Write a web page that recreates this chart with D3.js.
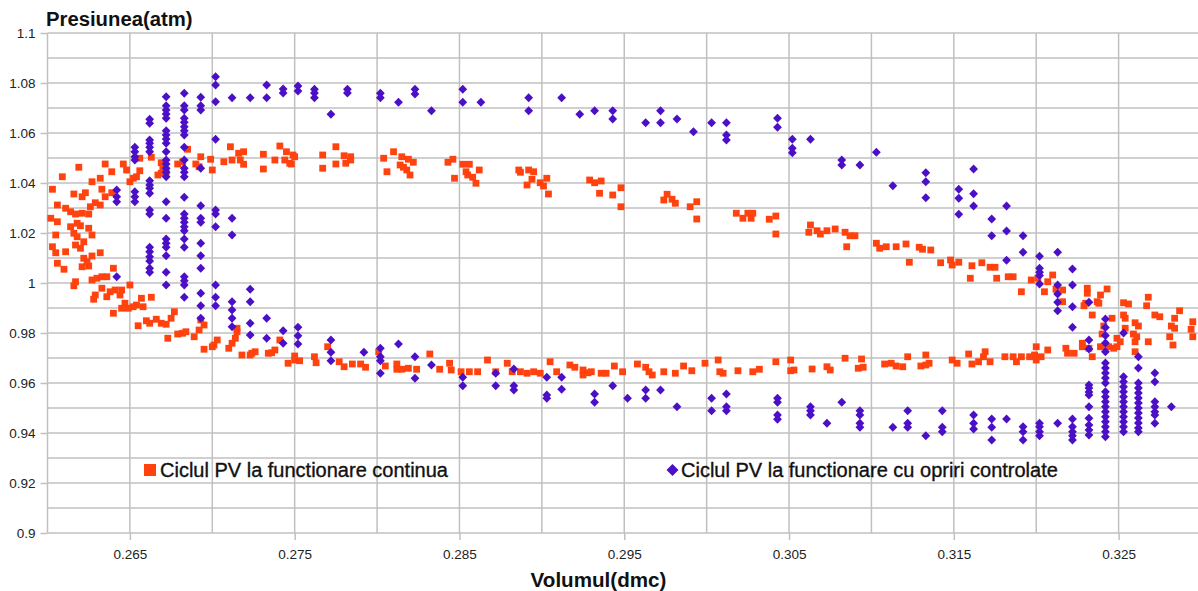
<!DOCTYPE html>
<html><head><meta charset="utf-8">
<script src="https://cdn.jsdelivr.net/npm/d3@7"></script>
<style>body{margin:0;background:#fff}svg{display:block;font-family:"Liberation Sans",Arial,sans-serif}</style>
</head><body><svg id="c" width="1198" height="591"></svg>
<script>
// ---------- data ----------
const xTickValues = [0.265, 0.275, 0.285, 0.295, 0.305, 0.315, 0.325];
const xTickLabels = ["0.265", "0.275", "0.285", "0.295", "0.305", "0.315", "0.325"];
const yTickValues = [0.9, 0.92, 0.94, 0.96, 0.98, 1.0, 1.02, 1.04, 1.06, 1.08, 1.1];
const yTickLabels = ["0.9", "0.92", "0.94", "0.96", "0.98", "1", "1.02", "1.04", "1.06", "1.08", "1.1"];
const seriesNames = ["Ciclul PV la functionare continua", "Ciclul PV la functionare cu opriri controlate"];
const axisTitles = ["Volumul(dmc)", "Presiunea(atm)"];

// series 1: continuous operation  [volume, pressure]
const seriesContinua = [
[0.2603,1.0375],[0.2602,1.0259],[0.2609,1.0425],[0.2619,1.0463],[0.2635,1.0476],[0.2646,1.0476],[0.2648,1.0452],[0.2639,1.0445],[0.2627,1.0405],[0.2632,1.0419],[0.2633,1.0375],[0.2639,1.0361],[0.2635,1.0345],[0.2616,1.0356],[0.2621,1.0345],[0.2623,1.0361],[0.2606,1.0312],[0.2611,1.0299],[0.2614,1.0285],[0.2617,1.0276],[0.2621,1.0279],[0.2625,1.0276],[0.2626,1.0305],[0.2629,1.0321],[0.2632,1.0312],[0.2606,1.0245],[0.2618,1.0239],[0.2614,1.0225],[0.2620,1.0229],[0.2625,1.0219],[0.2627,1.0192],[0.2605,1.0192],[0.2603,1.0145],[0.2616,1.0199],[0.2618,1.0185],[0.2622,1.0165],[0.2617,1.0152],[0.2620,1.0139],[0.2605,1.0121],[0.2611,1.0125],[0.2622,1.0099],[0.2627,1.0108],[0.2632,1.0121],[0.2606,1.0079],[0.2610,1.0055],[0.2621,1.0065],[0.2625,1.0068],[0.2624,1.0085],[0.2640,1.0059],[0.2627,1.0012],[0.2630,1.0019],[0.2633,1.0025],[0.2636,1.0025],[0.2617,1.0005],[0.2616,0.9989],[0.2650,0.9992],[0.2633,0.9979],[0.2638,0.9965],[0.2641,0.9972],[0.2645,0.9972],[0.2644,0.9952],[0.2629,0.9952],[0.2628,0.9935],[0.2636,0.9945],[0.2663,0.9943],[0.2657,0.9939],[0.2647,0.9919],[0.2658,0.9905],[0.2654,0.9912],[0.2652,0.9905],[0.2649,0.9899],[0.2645,0.9899],[0.2640,0.9879],[0.2655,0.9829],[0.2660,0.9849],[0.2662,0.9839],[0.2666,0.9855],[0.2669,0.9839],[0.2672,0.9835],[0.2675,0.9859],[0.2677,0.9885],[0.2673,0.9779],[0.2679,0.9796],[0.2682,0.9799],[0.2684,0.9805],[0.2689,0.9785],[0.2692,0.9812],[0.2695,0.9832],[0.2693,0.9852],[0.2695,0.9735],[0.2700,0.9745],[0.2703,0.9772],[0.2701,0.9752],[0.2712,0.9759],[0.2714,0.9779],[0.2715,0.9805],[0.2715,0.9819],[0.2718,0.9712],[0.2724,0.9719],[0.2726,0.9725],[0.2736,0.9721],[0.2738,0.9732],[0.2741,0.9772],[0.2750,0.9708],
[0.2710,0.9739],[0.2723,0.9712],[0.2734,0.9719],[0.2746,0.9679],[0.2750,0.9692],[0.2753,0.9689],[0.2762,0.9705],[0.2763,0.9681],[0.2770,0.9745],[0.2777,0.9685],[0.2780,0.9665],[0.2785,0.9676],[0.2790,0.9676],[0.2793,0.9663],[0.2801,0.9725],[0.2805,0.9668],[0.2812,0.9676],[0.2812,0.9655],[0.2815,0.9655],[0.2819,0.9659],[0.2824,0.9655],[0.2832,0.9716],[0.2838,0.9655],[0.2844,0.9679],[0.2845,0.9652],[0.2851,0.9645],[0.2856,0.9645],[0.2861,0.9645],[0.2867,0.9692],[0.2872,0.9645],[0.2879,0.9679],[0.2882,0.9645],[0.2887,0.9645],[0.2891,0.9639],[0.2895,0.9645],[0.2899,0.9639],[0.2905,0.9685],[0.2909,0.9645],
[0.2917,0.9672],[0.2920,0.9663],[0.2925,0.9652],[0.2925,0.9632],[0.2928,0.9641],[0.2930,0.9645],[0.2936,0.9639],[0.2939,0.9639],[0.2944,0.9668],[0.2949,0.9645],[0.2958,0.9676],[0.2963,0.9663],[0.2965,0.9645],[0.2967,0.9632],[0.2974,0.9645],[0.2981,0.9639],[0.2986,0.9668],[0.2991,0.9649],[0.2999,0.9679],[0.3007,0.9692],[0.3008,0.9645],[0.3010,0.9639],[0.3019,0.9649],[0.3028,0.9645],[0.3032,0.9655],[0.3042,0.9685],[0.3051,0.9692],[0.3051,0.9649],[0.3053,0.9652],[0.3064,0.9656],[0.3073,0.9665],[0.3075,0.9652],[0.3084,0.9699],[0.3094,0.9696],[0.3092,0.9659],[0.3095,0.9663],[0.3108,0.9676],[0.3112,0.9679],[0.3115,0.9668],[0.3119,0.9665],[0.3122,0.9705],
[0.3130,0.9668],[0.3133,0.9672],[0.3133,0.9712],[0.3135,0.9679],[0.3149,0.9692],[0.3152,0.9679],[0.3159,0.9716],[0.3161,0.9676],[0.3165,0.9685],[0.3168,0.9705],[0.3169,0.9725],[0.3172,0.9685],[0.3181,0.9705],[0.3186,0.9705],[0.3188,0.9685],[0.3191,0.9705],[0.3196,0.9705],[0.3200,0.9692],[0.3199,0.9712],[0.3200,0.9745],[0.3203,0.9705],[0.3207,0.9732],[0.3218,0.9739],[0.3219,0.9719],[0.3223,0.9719],[0.3228,0.9759],[0.3228,0.9745],[0.3232,0.9739],[0.3234,0.9705],[0.3239,0.9745],[0.3241,0.9745],[0.3244,0.9745],[0.3247,0.9739],[0.3249,0.9745],[0.3249,0.9779],[0.3251,0.9765],[0.3260,0.9765],[0.3260,0.9725],[0.3268,0.9765],
[0.3121,1.0156],[0.3129,1.0143],[0.3131,1.0135],[0.3136,1.0132],[0.3123,1.0083],[0.3142,1.0081],[0.3148,1.0092],[0.3149,1.0072],[0.3153,1.0083],[0.3161,1.0069],[0.3167,1.0081],[0.3172,1.0063],[0.3175,1.0063],[0.3160,1.0019],[0.3176,1.0019],[0.3183,1.0025],[0.3186,1.0025],[0.3191,0.9965],[0.3197,1.0012],[0.3201,1.0019],[0.3207,1.0005],[0.3210,1.0032],[0.3205,0.9965],[0.3212,0.9975],[0.3216,0.9972],[0.3216,0.9925],[0.3229,0.9909],[0.3230,0.9919],[0.3231,0.9979],[0.3231,0.9959],[0.3234,0.9872],[0.3237,0.9925],[0.3239,0.9952],[0.3238,0.9919],[0.3243,0.9976],[0.3241,0.9828],[0.3240,0.9796],[0.3246,0.9859],[0.3253,0.9921],[0.3256,0.9916],[0.3253,0.9872],[0.3254,0.9859],[0.3260,0.9841],[0.3262,0.9828],[0.3254,0.9819],[0.3259,0.9796],[0.3261,0.9785],[0.3268,0.9943],[0.3267,0.9909],[0.3272,0.9872],[0.3275,0.9865],[0.3287,0.9889],[0.3284,0.9859],[0.3282,0.9828],[0.3284,0.9819],[0.3281,0.9785],[0.3283,0.9752],[0.3294,0.9815],[0.3295,0.9845],[0.3295,0.9785],
[0.2990,1.0305],[0.2994,1.0325],[0.2994,1.0256],[0.3018,1.0279],[0.3022,1.0259],[0.3025,1.0279],[0.3027,1.0259],[0.3028,1.0279],[0.3038,1.0255],[0.3042,1.0268],[0.3042,1.0196],[0.3063,1.0232],[0.3062,1.0203],[0.3067,1.0209],[0.3069,1.0196],[0.3073,1.0209],[0.3078,1.0216],[0.3084,1.0203],[0.3087,1.0189],[0.3090,1.0189],[0.3085,1.0145],[0.3103,1.0159],[0.3105,1.0139],[0.3109,1.0145],[0.3115,1.0145],
[0.2741,1.0548],[0.2745,1.0525],[0.2749,1.0512],[0.2744,1.0492],[0.2747,1.0479],[0.2767,1.0512],[0.2767,1.0459],[0.2775,1.0545],[0.2775,1.0476],[0.2780,1.0509],[0.2781,1.0479],[0.2784,1.0505],[0.2784,1.0492],[0.2804,1.0499],[0.2806,1.0445],[0.2810,1.0525],[0.2815,1.0505],[0.2814,1.0472],[0.2816,1.0463],[0.2818,1.0452],[0.2820,1.0432],[0.2819,1.0495],[0.2822,1.0483],[0.2843,1.0483],[0.2846,1.0495],[0.2847,1.0419],[0.2852,1.0475],[0.2856,1.0475],[0.2854,1.0445],[0.2855,1.0432],[0.2858,1.0423],[0.2860,1.0399],[0.2862,1.0452],[0.2886,1.0452],[0.2887,1.0443],[0.2892,1.0452],[0.2895,1.0445],[0.2894,1.0415],[0.2891,1.0392],[0.2899,1.0401],[0.2901,1.0388],[0.2903,1.0419],[0.2904,1.0356],[0.2929,1.0412],[0.2932,1.0401],[0.2936,1.0408],[0.2935,1.0359],[0.2943,1.0352],[0.2948,1.0381],[0.2948,1.0305],[0.2974,1.0332],[0.2976,1.0355],[0.2979,1.0335],[0.2981,1.0319],
[0.2656,1.0499],[0.2663,1.0503],[0.2656,1.0449],[0.2650,1.0405],[0.2652,1.0419],[0.2654,1.0425],[0.2667,1.0432],[0.2669,1.0481],[0.2670,1.0459],[0.2672,1.0445],[0.2669,1.0439],[0.2679,1.0476],[0.2682,1.0485],[0.2685,1.0535],[0.2690,1.0476],[0.2692,1.0465],[0.2693,1.0505],[0.2699,1.0495],[0.2700,1.0452],[0.2707,1.0485],[0.2711,1.0545],[0.2712,1.0492],[0.2716,1.0519],[0.2719,1.0525],[0.2717,1.0492],[0.2719,1.0475],[0.2731,1.0456],[0.2731,1.0515],[0.2738,1.0492],[0.2748,1.0476],[0.2750,1.0505]
];

// series 2: operation with controlled stops, grouped by volume step [volume, [pressures]]
const seriesOpriri = [
[0.2642,[1.0372,1.0345,1.0325,1.0025]],
[0.2653,[1.0543,1.0525,1.0505,1.0492,1.0365,1.0345,1.0325]],
[0.2662,[1.0655,1.0639,1.0572,1.0559,1.0543,1.0525,1.0409,1.0392,1.0379,1.0359,1.0292,1.0276,1.0143,1.0125,1.0105,1.0088,1.0059,1.0043]],
[0.2672,[1.0745,1.0709,1.0692,1.0676,1.0659,1.0609,1.0592,1.0576,1.0559,1.0525,1.0492,1.0476,1.0459,1.0443,1.0425,1.0325,1.0259,1.0176,1.0159,1.0143,1.0109,1.0043,0.9992]],
[0.2683,[1.0759,1.0709,1.0692,1.0659,1.0643,1.0625,1.0609,1.0592,1.0543,1.0492,1.0459,1.0443,1.0425,1.0343,1.0276,1.0259,1.0243,1.0225,1.0209,1.0176,1.0143,1.0025,1.0009,0.9992,0.9943]],
[0.2693,[1.0743,1.0709,1.0692,1.0459,1.0309,1.0259,1.0243,1.0159,1.0109,1.0059,0.9959,0.9909,0.9859]],
[0.2702,[1.0825,1.0792,1.0725,1.0575,1.0292,1.0276,1.0225,0.9992,0.9943,0.9909]],
[0.2712,[1.0741,1.0259,1.0192,0.9925,0.9892,0.9859,0.9825]],
[0.2723,[1.0741,0.9975,0.9925,0.9839,0.9792]],
[0.2733,[1.0792,1.0741,0.9859,0.9779]],
[0.2743,[1.0776,1.0760,0.9809,0.9759]],
[0.2752,[1.0788,1.0768,0.9823,0.9789,0.9756]],
[0.2762,[1.0775,1.0760,1.0741]],
[0.2772,[1.0675,0.9772,0.9723,0.9689]],
[0.2782,[1.0775,1.0760]],
[0.2792,[0.9723]],
[0.2802,[1.0759,1.0741,0.9739,0.9705,0.9689,0.9639]],
[0.2813,[1.0723,0.9756]],
[0.2823,[1.0775,1.0756,0.9705,0.9619]],
[0.2833,[1.0689,0.9672]],
[0.2852,[1.0775,1.0723,0.9623,0.9589]],
[0.2863,[1.0723]],
[0.2872,[0.9639,0.9589]],
[0.2883,[0.9656,0.9589,0.9572]],
[0.2892,[1.0741,1.0689]],
[0.2903,[0.9623,0.9552,0.9539]],
[0.2912,[1.0741,0.9623,0.9575]],
[0.2923,[1.0675]],
[0.2932,[1.0689,0.9556,0.9523]],
[0.2943,[1.0689,1.0656,0.9589]],
[0.2952,[0.9539]],
[0.2963,[1.0641,0.9572,0.9539]],
[0.2972,[1.0689,1.0641,0.9572]],
[0.2982,[1.0656,0.9505]],
[0.2992,[1.0605]],
[0.3003,[1.0641,0.9539,0.9489]],
[0.3012,[1.0641,1.0592,1.0572,0.9556,0.9505,0.9489]],
[0.3043,[1.0659,1.0623,0.9539,0.9523,0.9472,0.9455]],
[0.3052,[1.0575,1.0539,1.0521]],
[0.3063,[1.0575,0.9505,0.9489,0.9472]],
[0.3073,[0.9439]],
[0.3082,[1.0492,1.0472,0.9523]],
[0.3093,[1.0472,0.9489,0.9472,0.9439,0.9423]],
[0.3103,[1.0523]],
[0.3113,[1.0389,0.9423]],
[0.3122,[0.9489,0.9439,0.9423]],
[0.3133,[1.0441,1.0405,1.0341,0.9389]],
[0.3143,[0.9489,0.9423,0.9405]],
[0.3153,[1.0375,1.0339,1.0275]],
[0.3162,[1.0456,1.0357,1.0308,0.9472,0.9439,0.9416]],
[0.3173,[1.0256,1.0189,0.9456,0.9423,0.9372]],
[0.3182,[1.0308,1.0208,1.0091,0.9456]],
[0.3192,[1.0189,1.0123,0.9425,0.9405,0.9372]],
[0.3202,[1.0107,1.0059,1.0043,1.0030,0.9996,0.9439,0.9425,0.9405,0.9389]],
[0.3213,[1.0123,0.9992,0.9956,0.9923,0.9889,0.9439]],
[0.3222,[1.0056,0.9992,0.9905,0.9823,0.9456,0.9425,0.9405,0.9389,0.9372]],
[0.3232,[0.9923,0.9772,0.9736,0.9592,0.9580,0.9564,0.9552,0.9505,0.9459,0.9432,0.9412,0.9392]],
[0.3242,[0.9856,0.9822,0.9790,0.9760,0.9725,0.9680,0.9660,0.9640,0.9620,0.9600,0.9565,0.9545,0.9525,0.9505,0.9485,0.9465,0.9445,0.9425,0.9405,0.9385]],
[0.3253,[0.9800,0.9625,0.9605,0.9585,0.9565,0.9545,0.9525,0.9505,0.9485,0.9465,0.9445,0.9425,0.9405]],
[0.3262,[0.9705,0.9660,0.9600,0.9580,0.9560,0.9540,0.9520,0.9500,0.9480,0.9460,0.9440,0.9420,0.9405]],
[0.3272,[0.9640,0.9605,0.9525,0.9505,0.9485,0.9472,0.9439]],
[0.3282,[0.9505]]
];

// ---------- chart ----------
const colorContinua = "#ff420e", colorOpriri = "#4b10c6";
const svg = d3.select("#c");
const W = 1198, H = 591;
const x = d3.scaleLinear().domain([0.26, 0.33]).range([47.5, 1201]);
const y = d3.scaleLinear().domain([0.9, 1.1]).range([533, 33]);

const gridX = d3.range(0, 15).map(i => +(0.26 + i * 0.005).toFixed(3));
const gridY = d3.range(0, 21).map(i => +(0.9 + i * 0.01).toFixed(2));
const gridColor = "#c0c0c0";

const g = svg.append("g");
g.selectAll("line.gx").data(gridX).join("line")
  .attr("x1", d => x(d)).attr("x2", d => x(d)).attr("y1", y(1.1)).attr("y2", y(0.9))
  .attr("stroke", gridColor).attr("stroke-width", 1.5);
g.selectAll("line.gy").data(gridY).join("line")
  .attr("x1", x(0.26)).attr("x2", W).attr("y1", d => y(d)).attr("y2", d => y(d))
  .attr("stroke", gridColor).attr("stroke-width", 1.5);

// axes (ticks + labels)
const xAxis = d3.axisBottom(x).tickValues(xTickValues).tickFormat((d, i) => xTickLabels[i]).tickSize(7).tickPadding(9);
const yAxis = d3.axisLeft(y).tickValues(yTickValues).tickFormat((d, i) => yTickLabels[i]).tickSize(7).tickPadding(5);
const gx = svg.append("g").attr("transform", `translate(0,${y(0.9)})`).call(xAxis);
const gy = svg.append("g").attr("transform", `translate(${x(0.26)},0)`).call(yAxis);
[gx, gy].forEach(a => {
  a.select(".domain").remove();
  a.selectAll(".tick line").attr("stroke", gridColor).attr("stroke-width", 1.5);
  a.selectAll(".tick text").attr("fill", "#222").style("font-size", "13.5px").style("font-family", '"Liberation Sans", Arial, sans-serif');
});

// points
const sq = 6.8;
svg.append("g").selectAll("rect").data(seriesContinua).join("rect")
  .attr("x", d => x(d[0]) - sq / 2).attr("y", d => y(d[1]) - sq / 2)
  .attr("width", sq).attr("height", sq).attr("fill", colorContinua);

const opririPts = seriesOpriri.flatMap(([v, ps]) => ps.map(p => [v, p]));
const dm = 4.4;
const diamond = `M0,${-dm}L${dm},0L0,${dm}L${-dm},0Z`;
svg.append("g").selectAll("path").data(opririPts).join("path")
  .attr("d", diamond).attr("transform", d => `translate(${x(d[0])},${y(d[1])})`)
  .attr("fill", colorOpriri);

// axis titles
svg.append("text").attr("x", 46).attr("y", 26).text(axisTitles[1])
  .style("font-size", "20.3px").style("font-weight", "bold").attr("fill", "#111");
svg.append("text").attr("x", 598.5).attr("y", 587).attr("text-anchor", "middle").text(axisTitles[0])
  .style("font-size", "20.6px").style("font-weight", "bold").attr("fill", "#111");

// legend
const lg = svg.append("g");
lg.append("rect").attr("x", 144).attr("y", 464).attr("width", 12).attr("height", 12).attr("fill", colorContinua);
lg.append("text").attr("x", 160).attr("y", 477).text(seriesNames[0]).style("font-size", "20px")
  .attr("fill", "#111").attr("stroke", "#111").attr("stroke-width", 0.35);
lg.append("path").attr("d", "M0,-6L6,0L0,6L-6,0Z").attr("transform", "translate(672.5,470)").attr("fill", colorOpriri);
lg.append("text").attr("x", 681).attr("y", 477).text(seriesNames[1]).style("font-size", "20px")
  .attr("fill", "#111").attr("stroke", "#111").attr("stroke-width", 0.35);
</script></body></html>
